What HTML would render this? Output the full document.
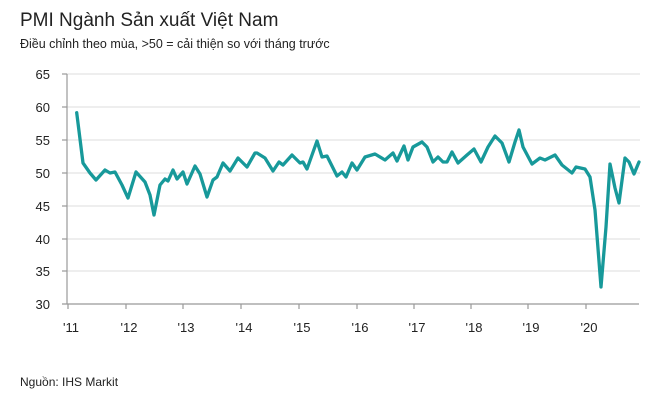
<!DOCTYPE html>
<html><head><meta charset="utf-8"><style>
body{margin:0;background:#fff;width:670px;height:403px;overflow:hidden;font-family:"Liberation Sans",sans-serif}
</style></head><body>
<svg width="670" height="403" xmlns="http://www.w3.org/2000/svg" font-family="Liberation Sans, sans-serif">
<text x="20" y="26" font-size="19" fill="#222">PMI Ngành Sản xuất Việt Nam</text>
<text x="20" y="48" font-size="12.5" fill="#222">Điều chỉnh theo mùa, &gt;50 = cải thiện so với tháng trước</text>
<g stroke="#dcdcdc" stroke-width="1">
<line x1="67" x2="640" y1="74" y2="74"/><line x1="67" x2="640" y1="107" y2="107"/>
<line x1="67" x2="640" y1="140" y2="140"/><line x1="67" x2="640" y1="173" y2="173"/>
<line x1="67" x2="640" y1="206" y2="206"/><line x1="67" x2="640" y1="239" y2="239"/>
<line x1="67" x2="640" y1="271" y2="271"/>
</g>
<g stroke="#999" stroke-width="1.2">
<line x1="67" x2="67" y1="74" y2="304"/><line x1="62" x2="639" y1="304" y2="304"/>
<line x1="62" x2="67" y1="74" y2="74"/><line x1="62" x2="67" y1="107" y2="107"/><line x1="62" x2="67" y1="140" y2="140"/><line x1="62" x2="67" y1="173" y2="173"/><line x1="62" x2="67" y1="206" y2="206"/><line x1="62" x2="67" y1="239" y2="239"/><line x1="62" x2="67" y1="271" y2="271"/>
<line x1="68" x2="68" y1="304" y2="309"/><line x1="126" x2="126" y1="304" y2="309"/><line x1="183" x2="183" y1="304" y2="309"/><line x1="241" x2="241" y1="304" y2="309"/><line x1="299" x2="299" y1="304" y2="309"/><line x1="357" x2="357" y1="304" y2="309"/><line x1="414" x2="414" y1="304" y2="309"/><line x1="471" x2="471" y1="304" y2="309"/><line x1="528" x2="528" y1="304" y2="309"/><line x1="586" x2="586" y1="304" y2="309"/>
</g>
<g font-size="13" fill="#222" text-anchor="end">
<text x="50" y="79">65</text><text x="50" y="112">60</text><text x="50" y="145">55</text><text x="50" y="178">50</text><text x="50" y="211">45</text><text x="50" y="244">40</text><text x="50" y="276">35</text><text x="50" y="309">30</text>
</g>
<g font-size="13" fill="#222" text-anchor="middle">
<text x="71" y="332">'11</text><text x="129" y="332">'12</text><text x="186" y="332">'13</text><text x="244" y="332">'14</text><text x="302" y="332">'15</text><text x="360" y="332">'16</text><text x="417" y="332">'17</text><text x="474" y="332">'18</text><text x="531" y="332">'19</text><text x="589" y="332">'20</text>
</g>
<polyline fill="none" stroke="#17999a" stroke-width="3.3" stroke-linejoin="round" stroke-linecap="round" points="76.7,112.7 83,163 90,173 96,180 105,170 110,173 115,172 122,185 128,198 136,172 145,182 150,195 154,215 160,185 165,179 168,181 173,170 177,179 183,172 187,184 195,166 200,174 207,197 213,180 217,177 223,163 230,171 238,158 247,167 255,153 257,153 265,158 273,171 279,162 283,165 292,155 300,163 303,162 307,169 317,141 322,157 327,156 333,168 337,176 342,172 346,177 352,163 357,170 365,157 375,154 385,160 393,153 397,161 404,146 408,160 413,147 422,142 427,147 433,162 438,157 443,162 447,162 452,152 458,163 467,155 474,149 481,162 488,147 495,136 502,143 509,162 515,142 519,130 523,147 532,164 540,158 545,160 555,155 562,165 572,173 576,167 585,169 590,177 595,210 601,287 606,227 610,164 615,188 619,203 625,158 629,162 634,174 639,162"/>
<text x="20" y="386" font-size="12" fill="#222">Nguồn:  IHS Markit</text>
</svg>
</body></html>
